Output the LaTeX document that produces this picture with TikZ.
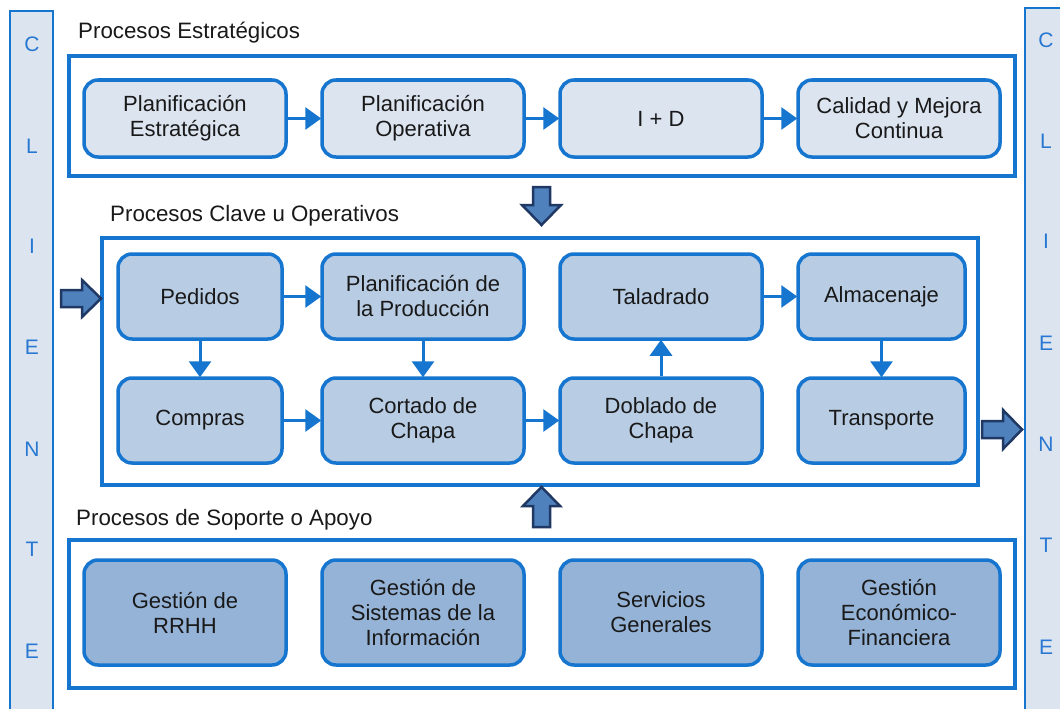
\documentclass[tikz,border=0pt]{standalone}
\usepackage{fontspec}
\setmainfont{Liberation Sans}
\usetikzlibrary{arrows.meta}
\definecolor{bblue}{RGB}{22,117,206}
\definecolor{lightf}{RGB}{220,228,240}
\definecolor{keyf}{RGB}{184,204,228}
\definecolor{supf}{RGB}{149,179,215}
\definecolor{barrowf}{RGB}{79,129,189}
\definecolor{barrowd}{RGB}{31,56,100}
\definecolor{letterc}{RGB}{40,120,210}
\definecolor{txt}{RGB}{25,25,25}
\tikzset{
  proc/.style={draw=bblue, line width=3.5pt, rounded corners=14pt, align=center,
    text=txt, font=\fontsize{22}{25}\selectfont, inner sep=2pt},
  stratbox/.style={proc, fill=lightf, minimum width=202pt, minimum height=77pt},
  keybox/.style={proc, fill=keyf, minimum height=85pt},
  supbox/.style={proc, fill=supf, minimum width=202pt, minimum height=105pt},
  frame/.style={draw=bblue, line width=4pt},
  sidebar/.style={draw=bblue, fill=lightf, line width=2.5pt},
  letter/.style={text=letterc, font=\fontsize{21}{21}\selectfont},
  title/.style={anchor=base west, text=txt, font=\fontsize{22.3}{25}\selectfont, inner sep=0pt},
  conn/.style={draw=bblue, line width=3pt, -{Triangle[length=16pt,width=22pt]}, shorten >=-1pt},
  bigarrow/.style={draw=barrowd, fill=barrowf, line width=2.5pt, line join=miter}
}
\begin{document}
\begin{tikzpicture}[x=1pt,y=-1pt]
\useasboundingbox (0,0) rectangle (1060,709);
\fill[white] (0,0) rectangle (1060,709);
% side bars
\draw[sidebar] (10,11) rectangle (53,730);
\draw[sidebar] (1025,8) rectangle (1080,730);
\foreach \l/\y [count=\i] in {C/44,L/146,I/246,E/347,N/449,T/549,E/651}
  \node[letter] (lc\i) at (32,\y) {\l};
\foreach \l/\y [count=\i] in {C/40,L/141,I/241,E/343,N/444,T/545,E/647}
  \node[letter] (rc\i) at (1046,\y) {\l};
% titles
\node[title] (t1) at (78,39) {Procesos Estratégicos};
\node[title] (t2) at (110,221) {Procesos Clave u Operativos};
\node[title] (t3) at (76,525) {Procesos de Soporte o Apoyo};
% frames
\draw[frame] (69,56) rectangle (1015,176);
\draw[frame] (102,238) rectangle (978,485);
\draw[frame] (69,540) rectangle (1015,688);
% strategic
\node[stratbox] (pe) at (185,118.5) {Planificación\\Estratégica};
\node[stratbox] (po) at (423,118.5) {Planificación\\Operativa};
\node[stratbox] (id) at (661,118.5) {I + D};
\node[stratbox] (cm) at (899,118.5) {Calidad y Mejora\\Continua};
\draw[conn] (pe) -- (po);
\draw[conn] (po) -- (id);
\draw[conn] (id) -- (cm);
% key processes
\node[keybox, minimum width=164pt] (ped) at (200,296.5) {Pedidos};
\node[keybox, minimum width=202pt] (pp) at (423,296.5) {Planificación de\\la Producción};
\node[keybox, minimum width=202pt] (tal) at (661,296.5) {Taladrado};
\node[keybox, minimum width=167pt] (alm) at (881.5,296.5) {Almacenaje};
\node[keybox, minimum width=164pt] (com) at (200,420.5) {Compras};
\node[keybox, minimum width=202pt] (cor) at (423,420.5) {Cortado de\\Chapa};
\node[keybox, minimum width=202pt] (dob) at (661,420.5) {Doblado de\\Chapa};
\node[keybox, minimum width=167pt] (tra) at (881.5,420.5) {Transporte};
\draw[conn] (ped) -- (pp);
\draw[conn] (ped) -- (com);
\draw[conn] (pp) -- (cor);
\draw[conn] (com) -- (cor);
\draw[conn] (cor) -- (dob);
\draw[conn] (dob) -- (tal);
\draw[conn] (tal) -- (alm);
\draw[conn] (alm) -- (tra);
% support
\node[supbox] (rh) at (185,612.5) {Gestión de\\RRHH};
\node[supbox] (si) at (423,612.5) {Gestión de\\Sistemas de la\\Información};
\node[supbox] (sg) at (661,612.5) {Servicios\\Generales};
\node[supbox] (ef) at (899,612.5) {Gestión\\Económico-\\Financiera};
% block arrows
\draw[bigarrow] (533,187) -- (550,187) -- (550,205) -- (561,205) -- (541.5,225)
  -- (522,205) -- (533,205) -- cycle;
\draw[bigarrow] (533,527) -- (550,527) -- (550,506) -- (560,506) -- (541.5,487)
  -- (523,506) -- (533,506) -- cycle;
\draw[bigarrow] (61,290) -- (82,290) -- (82,280) -- (101,298.5) -- (82,317)
  -- (82,307) -- (61,307) -- cycle;
\draw[bigarrow] (982,421) -- (1003,421) -- (1003,410) -- (1022,429.5) -- (1003,449)
  -- (1003,438) -- (982,438) -- cycle;
\end{tikzpicture}
\end{document}
